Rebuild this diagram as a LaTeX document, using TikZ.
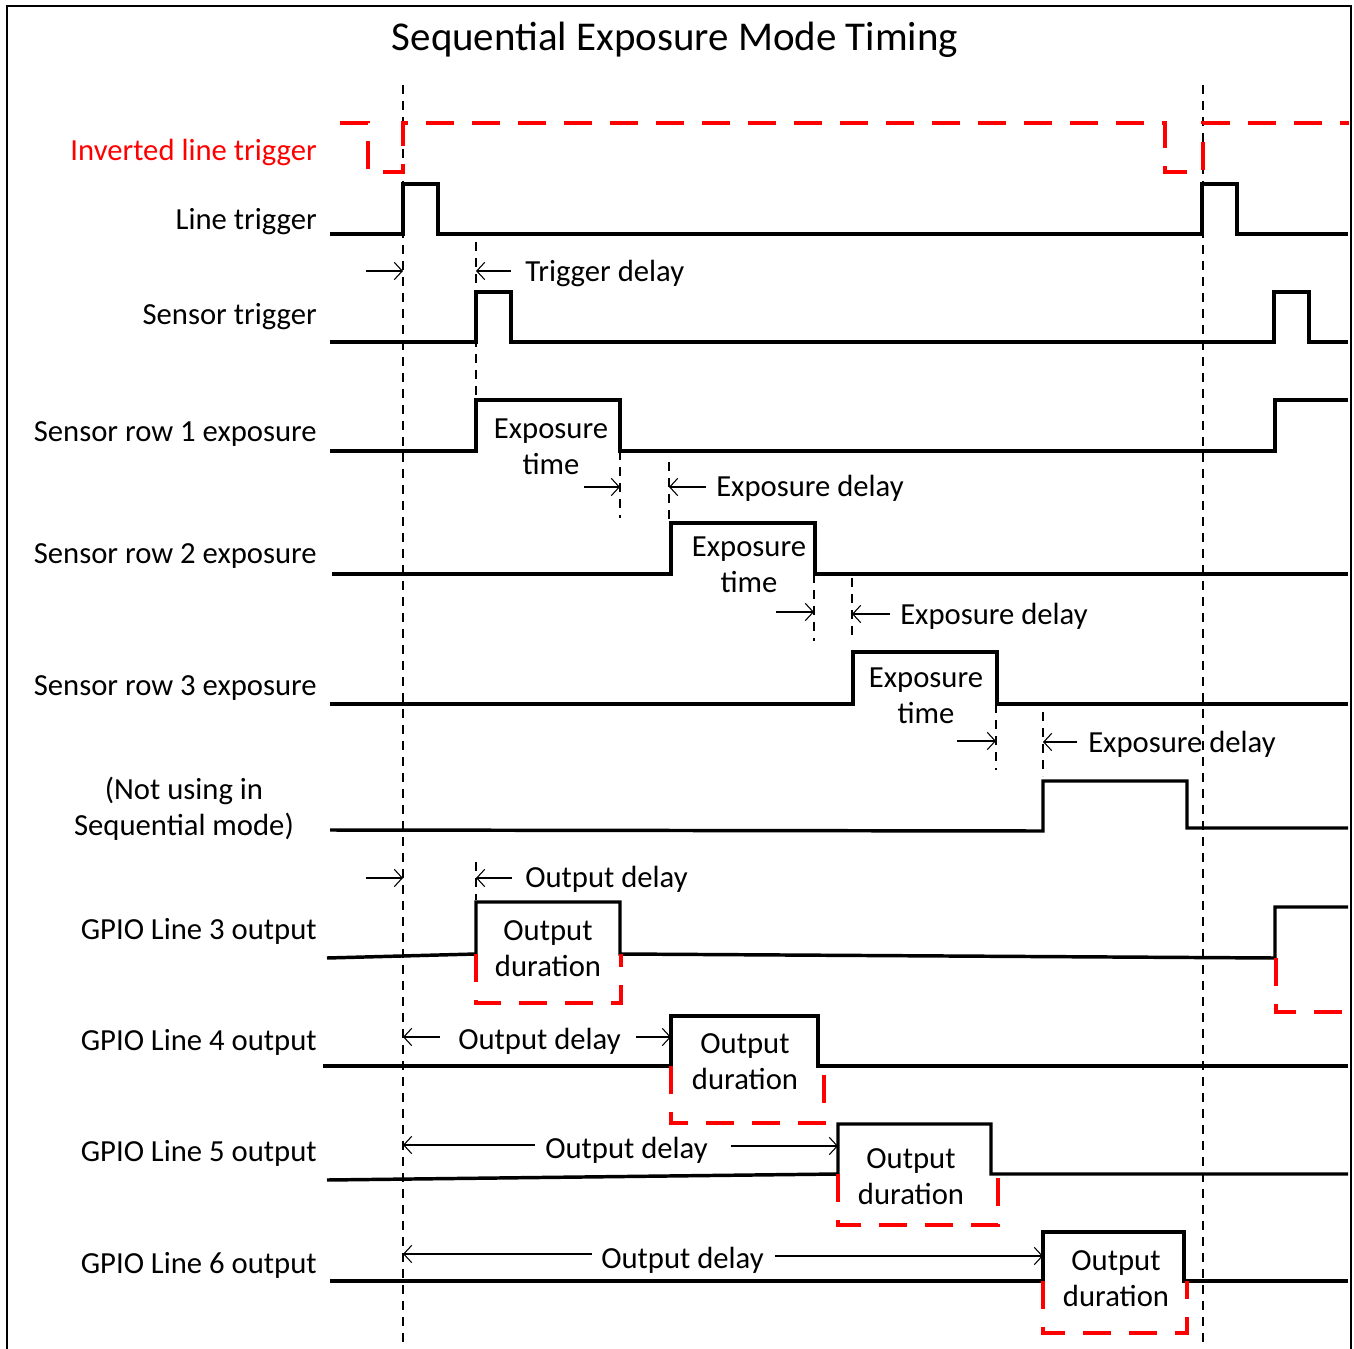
\documentclass[tikz,border=0pt]{standalone}
\usepackage{fontspec}
\setmainfont{Carlito}
\usetikzlibrary{arrows.meta}
\begin{document}
\begin{tikzpicture}[x=0.75pt,y=-0.75pt,
  sig/.style={line width=2.6pt, line join=miter},
  inv/.style={red, line width=2.4pt, dash pattern=on 21pt off 13.5pt},
  rbox/.style={red, line width=2.4pt, dash pattern=on 21pt off 13.5pt},
  guide/.style={line width=0.9pt, dash pattern=on 7pt off 5pt},
  dim/.style={line width=0.8pt, -{Straight Barb[length=6pt,width=13pt]}},
  lab/.style={font=\fontsize{23}{27}\selectfont, inner sep=0pt, anchor=mid east},
  dtxt/.style={font=\fontsize{23}{27}\selectfont, inner sep=0pt, anchor=mid west},
  btxt/.style={font=\fontsize{23}{27}\selectfont, inner sep=0pt, align=center},
]
\useasboundingbox (0,0) rectangle (1354,1349);
\draw[line width=1.6pt] (7,1349) -- (7,6) -- (1351,6) -- (1351,1349);
\node[font=\fontsize{30.7}{36}\selectfont, inner sep=0pt] (title) at (675,40) {Sequential Exposure Mode Timing};

% long guides
\draw[guide] (403,85) -- (403,1349);
\draw[guide] (1203,85) -- (1203,1349);

% labels
\node[lab, red] (l0) at (317,157) {Inverted line trigger};
\node[lab] (l1) at (317,226) {Line trigger};
\node[lab] (l2) at (317,321) {Sensor trigger};
\node[lab] (l3) at (317,438) {Sensor row 1 exposure};
\node[lab] (l4) at (317,560) {Sensor row 2 exposure};
\node[lab] (l5) at (317,692) {Sensor row 3 exposure};
\node[btxt] (l6) at (184,809) {(Not using in\\Sequential mode)};
\node[lab] (l7) at (317,936) {GPIO Line 3 output};
\node[lab] (l8) at (317,1047) {GPIO Line 4 output};
\node[lab] (l9) at (317,1158) {GPIO Line 5 output};
\node[lab] (l10) at (317,1270) {GPIO Line 6 output};

% inverted line trigger
\draw[inv] (340,123) -- (368,123) -- (368,172) -- (403,172) -- (403,123) -- (1165,123) -- (1165,172) -- (1203,172) -- (1203,123) -- (1349,123);

% line trigger
\draw[sig] (330,234) -- (403,234) -- (403,184) -- (438,184) -- (438,234) -- (1202,234) -- (1202,184) -- (1237,184) -- (1237,234) -- (1348,234);

% trigger delay
\draw[guide] (476,242) -- (476,398);
\draw[dim] (366,271) -- (403,271);
\draw[dim] (511,271) -- (476,271);
\node[dtxt] (td) at (525,278) {Trigger delay};

% sensor trigger
\draw[sig] (330,342) -- (476,342) -- (476,292) -- (511,292) -- (511,342) -- (1274,342) -- (1274,292) -- (1309,292) -- (1309,342) -- (1348,342);

% sensor row 1
\draw[sig] (330,451) -- (476,451) -- (476,400) -- (620,400) -- (620,451) -- (1275,451) -- (1275,400) -- (1348,400);
\node[btxt] (e1) at (551,447) {Exposure\\time};
\draw[guide] (620,451) -- (620,518);
\draw[guide] (669,462) -- (669,520);
\draw[dim] (584,487) -- (620,487);
\draw[dim] (706,487) -- (669,487);
\node[dtxt] (ed1) at (716,493) {Exposure delay};

% sensor row 2
\draw[sig] (332,574) -- (671,574) -- (671,523) -- (815,523) -- (815,574) -- (1348,574);
\node[btxt] (e2) at (749,565) {Exposure\\time};
\draw[guide] (814,574) -- (814,641);
\draw[guide] (852,578) -- (852,641);
\draw[dim] (776,612) -- (814,612);
\draw[dim] (890,614) -- (852,614);
\node[dtxt] (ed2) at (900,621) {Exposure delay};

% sensor row 3
\draw[sig] (330,704) -- (853,704) -- (853,652) -- (997,652) -- (997,704) -- (1348,704);
\node[btxt] (e3) at (926,696) {Exposure\\time};
\draw[guide] (996,704) -- (996,770);
\draw[guide] (1043,712) -- (1043,776);
\draw[dim] (957,741) -- (996,741);
\draw[dim] (1077,742) -- (1043,742);
\node[dtxt] (ed3) at (1088,749) {Exposure delay};

% not used
\draw[sig] (330,830) -- (1043,831) -- (1043,781) -- (1187,781) -- (1187,828) -- (1348,828);

% output delay (line 3)
\draw[guide] (476,862) -- (476,900);
\draw[dim] (366,878) -- (403,878);
\draw[dim] (512,878) -- (476,878);
\node[dtxt] (od3) at (525,884) {Output delay};

% GPIO 3
\draw[sig] (327,958) -- (476,954) -- (476,902) -- (620,902) -- (620,954) -- (1275,958) -- (1275,907) -- (1348,907);
\draw[rbox] (476,954) -- (476,1003) -- (621,1003) -- (621,954);
\draw[rbox] (1276,958) -- (1276,1012) -- (1349,1012);
\node[btxt] (o3) at (548,949) {Output\\duration};

% GPIO 4
\draw[sig] (323,1066) -- (671,1066) -- (671,1016) -- (818,1016) -- (818,1066) -- (1348,1066);
\draw[rbox] (671,1066) -- (671,1123) -- (824,1123) -- (824,1066);
\node[btxt] (o4) at (745,1062) {Output\\duration};
\draw[dim] (440,1037) -- (403,1037);
\node[dtxt] (od4) at (458,1046) {Output delay};
\draw[dim] (636,1037) -- (671,1037);

% GPIO 5
\draw[sig] (327,1180) -- (838,1174) -- (838,1124) -- (991,1124) -- (991,1174) -- (1348,1174);
\draw[rbox] (838,1174) -- (838,1225) -- (998,1225) -- (998,1174);
\node[btxt] (o5) at (911,1177) {Output\\duration};
\draw[dim] (535,1145) -- (403,1145);
\node[dtxt] (od5) at (545,1155) {Output delay};
\draw[dim] (731,1146) -- (838,1146);

% GPIO 6
\draw[sig] (330,1281) -- (1043,1281) -- (1043,1232) -- (1184,1232) -- (1184,1281) -- (1348,1281);
\draw[rbox] (1043,1281) -- (1043,1333) -- (1187,1333) -- (1187,1281);
\node[btxt] (o6) at (1116,1279) {Output\\duration};
\draw[dim] (592,1254) -- (403,1254);
\node[dtxt] (od6) at (601,1265) {Output delay};
\draw[dim] (775,1256) -- (1043,1256);
\end{tikzpicture}
\end{document}
